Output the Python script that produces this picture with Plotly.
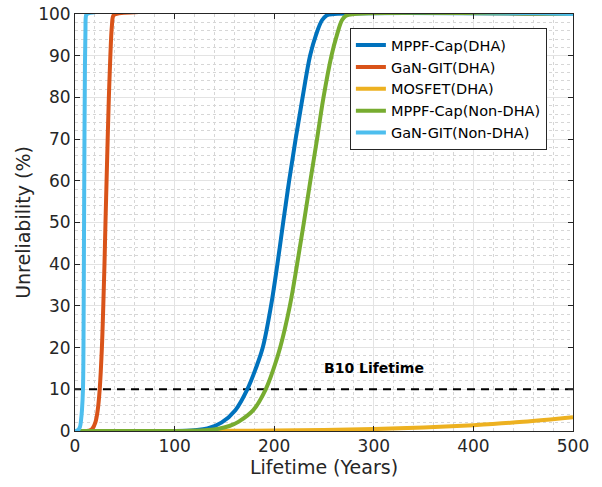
import plotly.graph_objects as go

# ---- data ----
mppf_dha_x = [0, 100, 120, 133, 147, 161, 173, 181.5, 188.5, 196.8, 203.2, 209, 215, 221.5, 228.5, 236, 242, 248, 253, 260, 500]
mppf_dha_y = [0, 0.02, 0.2, 0.6, 2, 5, 10, 15, 20, 30, 40, 50, 60, 70, 80, 90, 95, 98.5, 99.7, 100, 100]

gan_dha_x = [0, 14, 17.3, 20.4, 22.8, 24.8, 27, 28.4, 29.6, 30.6, 31.7, 32.8, 34, 35.5, 37, 38.5, 41, 500]
gan_dha_y = [0, 0.05, 0.5, 2, 5, 10, 20, 30, 40, 50, 60, 70, 80, 90, 97, 99.6, 100, 100]

mosfet_dha_x = [0, 100, 150, 200, 250, 300, 350, 400, 450, 500]
mosfet_dha_y = [0, 0.01, 0.03, 0.1, 0.22, 0.45, 0.82, 1.4, 2.2, 3.3]

mppf_non_x = [0, 100, 130, 143, 155, 164, 179, 191.5, 199.5, 206, 215.7, 223, 229.8, 236.3, 243, 249.5, 257.5, 263, 268, 272, 280, 500]
mppf_non_y = [0, 0.01, 0.15, 0.5, 1.2, 2.2, 5, 10, 15, 20, 30, 40, 50, 60, 70, 80, 90, 95, 98.5, 99.6, 100, 100]

gan_non_x = [0, 3, 5, 6, 7, 8, 8.5, 9, 9.5, 10, 10.5, 11, 12, 500]
gan_non_y = [0, 0.2, 1, 2.5, 5, 10, 20, 45, 70, 88, 96, 99.5, 100, 100]

b10_x = [0, 500]
b10_y = [10, 10]

series = [
    ("MPPF-Cap(DHA)", mppf_dha_x, mppf_dha_y, "#0072BD"),
    ("GaN-GIT(DHA)", gan_dha_x, gan_dha_y, "#D95319"),
    ("MOSFET(DHA)", mosfet_dha_x, mosfet_dha_y, "#EDB120"),
    ("MPPF-Cap(Non-DHA)", mppf_non_x, mppf_non_y, "#77AC30"),
    ("GaN-GIT(Non-DHA)", gan_non_x, gan_non_y, "#4DBEEE"),
]

fig = go.Figure()

fig.add_trace(go.Scatter(x=b10_x, y=b10_y, mode="lines", showlegend=False,
                         line=dict(color="black", width=2, dash="8px,6px"),
                         hoverinfo="skip"))

for name, xs, ys, col in series:
    fig.add_trace(go.Scatter(x=xs, y=ys, mode="lines", name=name,
                             line=dict(color=col, width=4, shape="spline", smoothing=1)))

fig.add_annotation(x=300, y=15, text="<b>B10 Lifetime</b>", showarrow=False,
                   font=dict(family="DejaVu Sans", size=14, color="black"))

axis_common = dict(
    showline=True, linecolor="#262626", linewidth=1, mirror="ticks",
    ticks="inside", ticklen=5, tickcolor="#262626",
    showgrid=True, gridcolor="#e3e3e3", gridwidth=1,
    zeroline=False, automargin=False, ticklabeloverflow="allow",
    tickfont=dict(family="DejaVu Sans", size=17, color="#262626"),
    title_font=dict(family="DejaVu Sans", size=19, color="#262626"),
)

fig.update_xaxes(range=[0, 500], dtick=100, tick0=0,
                 title_text="Lifetime (Years)", title_standoff=2,
                 minor=dict(dtick=20, showgrid=True, gridcolor="#d6d6d6", griddash="dot", ticks=""),
                 **axis_common)
fig.update_yaxes(range=[0, 100], dtick=10, tick0=0,
                 title_text="Unreliability (%)", title_standoff=2,
                 minor=dict(dtick=2, showgrid=True, gridcolor="#d6d6d6", griddash="dot", ticks=""),
                 **axis_common)

fig.update_layout(
    width=602, height=487,
    margin=dict(l=75, r=29, t=14, b=56),
    paper_bgcolor="white", plot_bgcolor="white",
    font=dict(family="DejaVu Sans", color="#262626"),
    hovermode=False,
    legend=dict(x=0.552, y=0.966, xanchor="left", yanchor="top",
                bgcolor="white", bordercolor="#262626", borderwidth=1,
                font=dict(family="DejaVu Sans", size=14.5, color="black"),
                tracegroupgap=0),
)

fig.write_html("out.html",
               config={"displayModeBar": False, "staticPlot": True},
               post_script="document.body.style.margin='0';document.body.style.overflow='hidden';")
